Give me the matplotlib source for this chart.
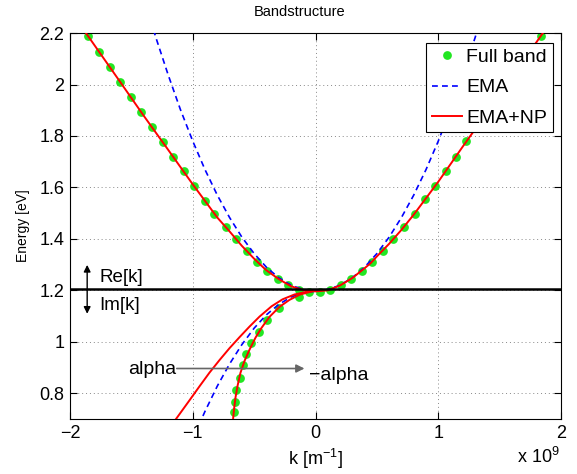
import numpy as np
import matplotlib
matplotlib.use("Agg")
import matplotlib.pyplot as plt

plt.rcParams['font.family'] = ['Liberation Sans', 'DejaVu Sans']
plt.rcParams['mathtext.fontset'] = 'custom'
plt.rcParams['mathtext.rm'] = 'Liberation Sans'
plt.rcParams['mathtext.it'] = 'Liberation Sans:italic'

# wave vector in units of 1e9 1/m, energy in eV
# full band, real k (upper part)
k_full = [-1.855, -1.765, -1.678, -1.591, -1.507, -1.420, -1.334, -1.246, -1.159, -1.075,
          -0.991, -0.904, -0.823, -0.733, -0.646, -0.562, -0.478, -0.394, -0.307, -0.220,
          -0.136, -0.049, 0.038, 0.120, 0.206, 0.291, 0.375, 0.459, 0.546, 0.633,
          0.719, 0.807, 0.890, 0.975, 1.059, 1.143, 1.228, 1.314, 1.400, 1.487,
          1.574, 1.660, 1.747, 1.837]
E_full = [2.188, 2.127, 2.069, 2.010, 1.950, 1.892, 1.834, 1.777, 1.718, 1.662,
          1.606, 1.549, 1.497, 1.448, 1.399, 1.353, 1.312, 1.276, 1.246, 1.221,
          1.202, 1.192, 1.192, 1.202, 1.222, 1.245, 1.275, 1.310, 1.353, 1.399,
          1.448, 1.498, 1.554, 1.606, 1.663, 1.720, 1.779, 1.835, 1.893, 1.951,
          2.010, 2.069, 2.128, 2.188]
# full band, imaginary k (plotted as -|k|)
k_full_im = [-0.138, -0.299, -0.393, -0.464, -0.525, -0.565, -0.592, -0.619, -0.646, -0.657, -0.668]
E_full_im = [1.176, 1.131, 1.085, 1.040, 0.997, 0.952, 0.908, 0.861, 0.814, 0.768, 0.727]

# effective mass approximation
k_ema = [-1.32, -1.3, -1.2, -1.1, -1.0, -0.9, -0.8, -0.7, -0.6, -0.5, -0.4, -0.3, -0.2, -0.1, 0.0,
         0.1, 0.2, 0.3, 0.4, 0.5, 0.6, 0.7, 0.8, 0.9, 1.0, 1.1, 1.2, 1.3, 1.32]
E_ema = [2.213, 2.182, 2.037, 1.902, 1.780, 1.669, 1.570, 1.483, 1.407, 1.343, 1.290, 1.249, 1.220, 1.203, 1.197,
         1.203, 1.220, 1.249, 1.290, 1.343, 1.407, 1.483, 1.570, 1.669, 1.780, 1.902, 2.037, 2.182, 2.213]
k_ema_im = [0.0, -0.1, -0.2, -0.3, -0.4, -0.5, -0.6, -0.7, -0.8, -0.9, -0.94]
E_ema_im = [1.197, 1.191, 1.174, 1.145, 1.105, 1.053, 0.989, 0.914, 0.828, 0.730, 0.687]

# EMA with nonparabolicity
k_np = [-1.87, -1.6, -1.4, -1.2, -1.0, -0.8, -0.7, -0.6, -0.5, -0.45, -0.4, -0.3, -0.2, -0.1, 0.0,
        0.1, 0.2, 0.3, 0.4, 0.45, 0.5, 0.6, 0.7, 0.8, 1.0, 1.2, 1.4, 1.6, 1.852]
E_np = [2.200, 2.016, 1.879, 1.746, 1.612, 1.483, 1.429, 1.373, 1.323, 1.300, 1.278, 1.244, 1.216, 1.201, 1.196,
        1.200, 1.219, 1.248, 1.286, 1.306, 1.332, 1.381, 1.435, 1.494, 1.622, 1.759, 1.893, 2.028, 2.200]
# imaginary branch, +alpha
k_np_a = [-0.03, -0.130, -0.212, -0.293, -0.375, -0.440, -0.489, -0.538, -0.578, -0.611, -0.635, -0.652, -0.664, -0.672]
E_np_a = [1.196, 1.183, 1.163, 1.136, 1.097, 1.054, 1.016, 0.969, 0.926, 0.880, 0.829, 0.783, 0.736, 0.697]
# imaginary branch, -alpha
k_np_b = [-0.03, -0.065, -0.171, -0.269, -0.358, -0.456, -0.538, -0.619, -0.701, -0.782, -0.864, -0.945, -1.026, -1.141]
E_np_b = [1.196, 1.195, 1.184, 1.165, 1.138, 1.098, 1.059, 1.018, 0.975, 0.929, 0.880, 0.827, 0.773, 0.697]

E_c = 1.207

x_ticks = [-2, -1, 0, 1, 2]
x_labels = ['\u22122', '\u22121', '0', '1', '2']
y_ticks = [0.8, 1.0, 1.2, 1.4, 1.6, 1.8, 2.0, 2.2]
y_labels = ['0.8', '1', '1.2', '1.4', '1.6', '1.8', '2', '2.2']

fig = plt.figure(figsize=(5.77, 4.74), dpi=100)
ax = fig.add_axes([0.1213, 0.1160, 0.8510, 0.8143])

green = '#22e622'
ax.plot(k_full, E_full, 'o', color=green, markersize=6.3, markeredgewidth=0, label='Full band', zorder=2)
ax.plot(k_full_im, E_full_im, 'o', color=green, markersize=6.3, markeredgewidth=0, zorder=2)
ax.plot(k_ema, E_ema, color='b', lw=1.2, linestyle=(0, (3.5, 2.5)), label='EMA', zorder=3)
ax.plot(k_ema_im, E_ema_im, color='b', lw=1.2, linestyle=(0, (3.5, 2.5)), zorder=3)
ax.plot(k_np, E_np, color='r', lw=1.4, label='EMA+NP', zorder=4)
ax.plot(k_np_a, E_np_a, color='r', lw=1.4, zorder=4)
ax.plot(k_np_b, E_np_b, color='r', lw=1.4, zorder=4)

ax.axhline(E_c, color='k', lw=1.8, zorder=5)

# Re / Im marker
ax.annotate('', xy=(-1.86, 1.299), xytext=(-1.86, 1.109),
            arrowprops=dict(arrowstyle='<|-|>', color='k', lw=1.0, mutation_scale=10,
                            shrinkA=0, shrinkB=0), zorder=6)
ax.text(-1.76, 1.249, 'Re[k]', fontsize=13.5, ha='left', va='center')
ax.text(-1.76, 1.140, 'Im[k]', fontsize=13.5, ha='left', va='center')

# alpha -> -alpha
ax.annotate('', xy=(-0.09, 0.8963), xytext=(-1.13, 0.8963),
            arrowprops=dict(arrowstyle='-|>', color='#666666', lw=1.2, mutation_scale=12,
                            shrinkA=0, shrinkB=0), zorder=6)
ax.text(-1.135, 0.894, 'alpha', fontsize=14, ha='right', va='center')
ax.text(-0.055, 0.868, '\u2212alpha', fontsize=14, ha='left', va='center')

ax.set_xlim(-2, 2)
ax.set_ylim(0.7, 2.2)
ax.set_xticks(x_ticks)
ax.set_xticklabels(x_labels)
ax.set_yticks(y_ticks)
ax.set_yticklabels(y_labels)
ax.tick_params(direction='in', length=5, width=0.8, top=True, right=True, labelsize=13, pad=4)
ax.grid(True, linestyle=(0, (1, 3)), color='#888888', lw=0.7)
for s in ax.spines.values():
    s.set_linewidth(0.8)

fig.text(300 / 577, 1 - 12 / 474, 'Bandstructure', fontsize=10.5, ha='center', va='center')
ax.set_xlabel('k [m$^{\u22121}$]', fontsize=13, labelpad=4)
ax.set_ylabel('Energy [eV]', fontsize=10, labelpad=7)
fig.text(516.7 / 577, 1 - 463 / 474, 'x 10$^{9}$', fontsize=13, ha='left', va='baseline')

leg = ax.legend(loc='upper right', bbox_to_anchor=(0.983, 0.975), borderaxespad=0,
                fontsize=14, fancybox=False, framealpha=1, edgecolor='k',
                handlelength=1.55, handletextpad=0.2, borderpad=0.3, labelspacing=0.65,
                numpoints=1)
leg.get_frame().set_linewidth(0.8)
leg.set_zorder(10)

fig.savefig('out.png', dpi=100)
